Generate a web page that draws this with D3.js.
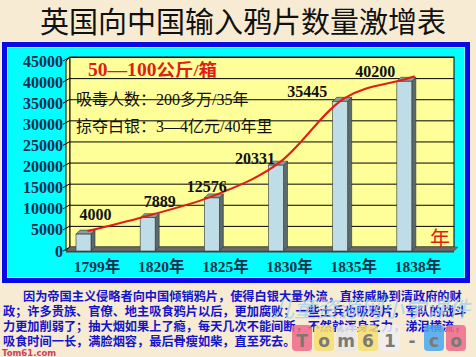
<!DOCTYPE html>
<html><head><meta charset="utf-8">
<script src="https://cdn.jsdelivr.net/npm/d3@7"></script>
<style>html,body{margin:0;padding:0;background:#f7ebd3;}svg{display:block;}</style>
</head><body>
<script>
const title = "英国向中国输入鸦片数量激增表";
const categories = ["1799年","1820年","1825年","1830年","1835年","1838年"];
const values = [4000, 7889, 12576, 20331, 35445, 40200];
const yTicks = [0,5000,10000,15000,20000,25000,30000,35000,40000,45000];
const noteUnit = ["50—100", "公斤/箱"];
const noteLines = ["吸毒人数：200多万/35年", "掠夺白银：3—4亿元/40年里"];
const axisUnit = "年";
const paragraph = [
  "因为帝国主义侵略者向中国倾销鸦片，使得白银大量外流，直接威胁到清政府的财",
  "政；许多贵族、官僚、地主吸食鸦片以后，更加腐败；一些士兵也吸鸦片，军队的战斗",
  "力更加削弱了；抽大烟如果上了瘾，每天几次不能间断，不然就浑身乏力，涕泪横流，",
  "吸食时间一长，满脸烟容，最后骨瘦如柴，直至死去。"
];

const W = 476, H = 357;
const svg = d3.select("body").append("svg").attr("width", W).attr("height", H);
const serif = "'Liberation Serif','Times New Roman','Noto Sans CJK SC',serif";
const cjk = "'Noto Sans CJK SC',sans-serif";

svg.append("rect").attr("width", W).attr("height", H).attr("fill", "#f7ebd3");

svg.append("text").attr("x", 243).attr("y", 20).attr("text-anchor", "middle")
  .attr("dominant-baseline", "central").attr("font-family", cjk).attr("font-size", 29)
  .attr("font-weight", 400).attr("fill", "#111").text(title);

svg.append("rect").attr("x", 2).attr("y", 42).attr("width", 468).attr("height", 241).attr("fill", "#0a0ae6");
svg.append("rect").attr("x", 7).attr("y", 47).attr("width", 458).attr("height", 231).attr("fill", "#00ffff");
svg.append("rect").attr("x", 7.5).attr("y", 47.5).attr("width", 457).attr("height", 230)
  .attr("fill", "none").attr("stroke", "#e8ffff").attr("stroke-dasharray", "1,1").attr("stroke-width", 1);

const dx = 4, dy = 4;
const yF = d3.scaleLinear().domain([0, 45000]).range([251, 61]);
const yB = v => yF(v) - dy;
const x = d3.scaleBand().domain(categories).range([66, 451]);
const wallL = 70, wallR = 454;

svg.append("polygon").attr("points", [[66, yF(0)], [66, yF(45000)], [wallL, yB(45000)], [wallL, yB(0)]].join(" "))
  .attr("fill", "#ffff99").attr("stroke", "#000").attr("stroke-width", 1);
svg.append("rect").attr("x", wallL).attr("y", yB(45000)).attr("width", wallR - wallL).attr("height", yB(0) - yB(45000))
  .attr("fill", "#ffff99").attr("stroke", "#000").attr("stroke-width", 1);
svg.append("g").selectAll("line").data(yTicks.filter(t => t > 0)).join("line")
  .attr("x1", wallL).attr("x2", wallR).attr("y1", d => yB(d) + 0.5).attr("y2", d => yB(d) + 0.5)
  .attr("stroke", "#000").attr("stroke-width", 1);
svg.append("g").selectAll("line").data(yTicks).join("line")
  .attr("x1", 63).attr("x2", wallL).attr("y1", d => yF(d)).attr("y2", d => yB(d))
  .attr("stroke", "#000").attr("stroke-width", 1);

svg.append("polygon").attr("points", [[66, yF(0)], [wallL, yB(0)], [wallR + 4, yB(0)], [wallR, yF(0)]].join(" "))
  .attr("fill", "#6a6a6a").attr("stroke", "#444").attr("stroke-width", 0.5);
svg.append("rect").attr("x", 66).attr("y", yF(0)).attr("width", wallR - 66).attr("height", 1.5).attr("fill", "#444");

svg.append("g").selectAll("text").data(yTicks).join("text")
  .attr("x", 63).attr("y", d => yF(d)).attr("text-anchor", "end").attr("dominant-baseline", "central")
  .attr("font-family", serif).attr("font-size", 16).attr("font-weight", "bold").attr("fill", "#14304a")
  .text(d => d);

const bw = 15;
const bl = d => x(d) + 10;
const bars = svg.append("g").selectAll("g").data(categories.map((c, i) => ({c, v: values[i], i}))).join("g");
bars.append("polygon").attr("points", d => [[bl(d.c) + bw, yF(d.v)], [bl(d.c) + bw + dx, yF(d.v) - dy], [bl(d.c) + bw + dx, yB(0)], [bl(d.c) + bw, yF(0)]].join(" "))
  .attr("fill", "#5c6a6a").attr("stroke", "#333").attr("stroke-width", 0.6);
bars.append("polygon").attr("points", d => [[bl(d.c), yF(d.v)], [bl(d.c) + dx, yF(d.v) - dy], [bl(d.c) + bw + dx, yF(d.v) - dy], [bl(d.c) + bw, yF(d.v)]].join(" "))
  .attr("fill", "#8c9c9c").attr("stroke", "#333").attr("stroke-width", 0.6);
bars.append("rect").attr("x", d => bl(d.c)).attr("y", d => yF(d.v)).attr("width", bw).attr("height", d => yF(0) - yF(d.v))
  .attr("fill", "#bfdde6").attr("stroke", "#333").attr("stroke-width", 0.6);

const pts = categories.map((c, i) => [bl(c) + bw / 2 + 4, yF(values[i]) - 3]);
const last = pts[pts.length - 1], prev = pts[pts.length - 2];
const ext = [last[0] + 0.1 * (last[0] - prev[0]), last[1] + 0.1 * (last[1] - prev[1])];
svg.append("path").attr("d", d3.line().curve(d3.curveMonotoneX)([...pts, ext]))
  .attr("fill", "none").attr("stroke", "#e01e14").attr("stroke-width", 2);

const nudgeX = [12, 12, -5, -21, -33, -29];
const nudgeY = [-20, -16, -11, -7, -10, -10];
svg.append("g").selectAll("text").data(values).join("text")
  .attr("x", (d, i) => bl(categories[i]) + bw / 2 + nudgeX[i])
  .attr("y", (d, i) => yF(d) + nudgeY[i]).attr("text-anchor", "middle").attr("dominant-baseline", "central")
  .attr("font-family", serif).attr("font-size", 16).attr("font-weight", "bold").attr("fill", "#111")
  .text(d => d);

svg.append("g").selectAll("text").data(categories).join("text")
  .attr("x", d => x(d) + x.bandwidth() / 2 - 1).attr("y", 266).attr("text-anchor", "middle").attr("dominant-baseline", "central")
  .attr("font-family", serif).attr("font-size", 15.5).attr("font-weight", "bold").attr("fill", "#14304a")
  .text(d => d);

const u = svg.append("text").attr("x", 88).attr("y", 70).attr("dominant-baseline", "central")
  .attr("font-weight", "bold").attr("fill", "#e01e14")
  .attr("textLength", 129).attr("lengthAdjust", "spacingAndGlyphs");
u.append("tspan").attr("font-family", serif).attr("font-size", 18).text(noteUnit[0]);
u.append("tspan").attr("font-family", serif).attr("font-size", 17).text(noteUnit[1]);
svg.append("g").selectAll("text").data(noteLines).join("text")
  .attr("x", 76).attr("y", (d, i) => 99 + i * 27).attr("dominant-baseline", "central")
  .attr("font-family", serif).attr("font-size", 16).attr("fill", "#111").text(d => d);
svg.append("text").attr("x", 440).attr("y", 237).attr("text-anchor", "middle").attr("dominant-baseline", "central")
  .attr("font-family", cjk).attr("font-size", 20).attr("fill", "#e01e14").text(axisUnit);

svg.append("g").selectAll("text").data(paragraph).join("text")
  .attr("x", (d, i) => i === 0 ? 23 : 3).attr("y", (d, i) => 296 + i * 15).attr("dominant-baseline", "central")
  .attr("font-family", cjk).attr("font-size", 12.2).attr("font-weight", "bold").attr("fill", "#1414c8")
  .text(d => d);

// watermark
svg.append("text").attr("x", 272).attr("y", 307).attr("dominant-baseline", "central")
  .attr("font-family", cjk).attr("font-size", 22).attr("fill", "#9ad0ee").attr("opacity", 0.75)
  .attr("font-style", "italic").text("儿童资源网小学课件");
const tiles = [["T","#f06a8a"],["o","#f8e070"],["m","#e8e8e8"],["6","#f8e070"],["1","#f0f0f0"],["-","none"],["c","#4aa8f0"],["o","#f06a8a"]];
const tg = svg.append("g").attr("opacity", 0.85);
tiles.forEach((t, i) => {
  const tx = 292 + i * 22;
  if (t[1] !== "none") tg.append("rect").attr("x", tx).attr("y", 325).attr("width", 20).attr("height", 26).attr("rx", 4).attr("fill", t[1]);
  tg.append("text").attr("x", tx + 10).attr("y", 341).attr("text-anchor", "middle").attr("dominant-baseline", "central")
    .attr("font-family", "'DejaVu Sans',sans-serif").attr("font-size", 17).attr("font-weight", "bold").attr("fill", "#666").text(t[0]);
});
svg.append("text").attr("x", 2).attr("y", 353).attr("dominant-baseline", "central")
  .attr("font-family", "'DejaVu Sans',sans-serif").attr("font-size", 8.5).attr("font-weight", "bold").attr("fill", "#d04060").text("Tom61.com");
</script>
</body></html>
